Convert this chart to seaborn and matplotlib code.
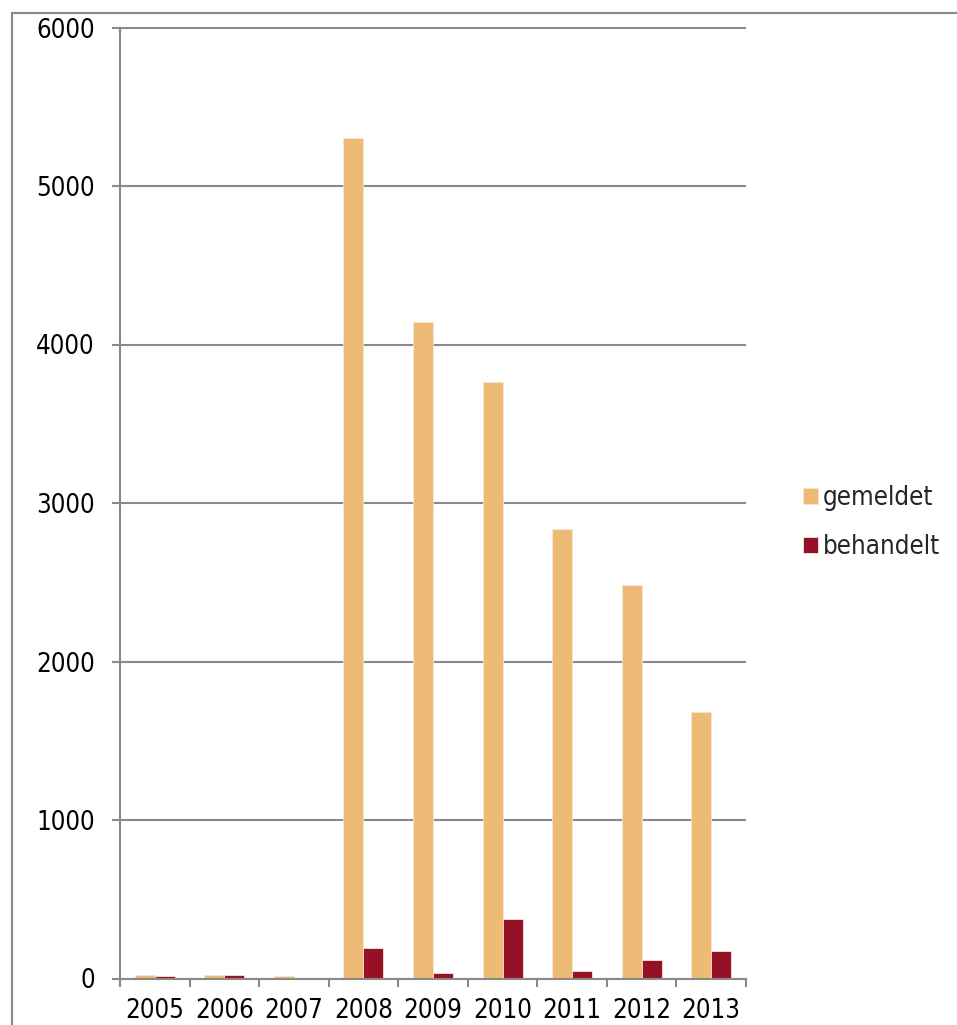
import matplotlib
matplotlib.use("Agg")
import matplotlib.pyplot as plt
import seaborn as sns
import pandas as pd
from matplotlib.patches import Rectangle
from matplotlib.ticker import FixedLocator

# Data
years = ["2005", "2006", "2007", "2008", "2009", "2010", "2011", "2012", "2013"]
gemeldet = [22, 22, 16, 5300, 4140, 3765, 2835, 2480, 1680]
behandelt = [18, 22, 0, 190, 36, 373, 47, 119, 171]
series_names = ["gemeldet", "behandelt"]
series_colors = ["#EDBB75", "#961126"]
y_ticks = [0, 1000, 2000, 3000, 4000, 5000, 6000]

df = pd.DataFrame({
    "Jahr": years * 2,
    "Anzahl": gemeldet + behandelt,
    "Serie": [series_names[0]] * len(years) + [series_names[1]] * len(years),
})

sns.set_theme(style="white")
plt.rcParams["font.family"] = ["DejaVu Sans"]
plt.rcParams["font.stretch"] = "condensed"

GRAY = "#898989"
FS = 18.5
W, H = 957, 1025
fig = plt.figure(figsize=(W / 100, H / 100), dpi=100)
fig.patch.set_facecolor("white")
ax = fig.add_axes([120 / W, 1 - 978.5 / H, (746 - 120) / W, (978.5 - 27.5) / H])

sns.barplot(data=df, x="Jahr", y="Anzahl", hue="Serie", hue_order=series_names,
            palette=series_colors, saturation=1, width=0.575, gap=0,
            errorbar=None, edgecolor="#f7e6d6", linewidth=0.6, ax=ax)

ax.set_xlim(-0.5, len(years) - 0.5)
ax.set_ylim(0, 6000)
ax.set_yticks(y_ticks)
ax.set_xlabel("")
ax.set_ylabel("")
ax.set_axisbelow(True)
ax.yaxis.grid(True, color=GRAY, linewidth=1.5)
ax.xaxis.grid(False)

for side in ["top", "right"]:
    ax.spines[side].set_visible(False)
for side in ["left", "bottom"]:
    ax.spines[side].set_color(GRAY)
    ax.spines[side].set_linewidth(1.5)

ax.tick_params(axis="y", which="major", direction="out", length=6, width=1.5,
               color=GRAY, pad=12, labelsize=FS, labelcolor="black", left=True)
ax.tick_params(axis="x", which="major", length=0, pad=14, labelsize=FS,
               labelcolor="black", bottom=True)
ax.xaxis.set_minor_locator(FixedLocator([i - 0.5 for i in range(len(years) + 1)]))
ax.tick_params(axis="x", which="minor", direction="out", length=6, width=1.5,
               color=GRAY, bottom=True)

handles, labels = ax.get_legend_handles_labels()
ax.legend(handles, labels, loc="upper left",
          bbox_to_anchor=(803 / W, 1 - 485 / H), bbox_transform=fig.transFigure,
          frameon=False, borderpad=0, borderaxespad=0, handlelength=0.58,
          handleheight=0.58, handletextpad=0.2, labelspacing=0.9, fontsize=FS)

# Outer chart frame
fig.add_artist(Rectangle((11.5 / W, -0.1), 1.2, 1.1 - 12.5 / H,
                         transform=fig.transFigure, fill=False,
                         edgecolor=GRAY, linewidth=1.5, clip_on=False))

fig.savefig("out.png", dpi=100)
